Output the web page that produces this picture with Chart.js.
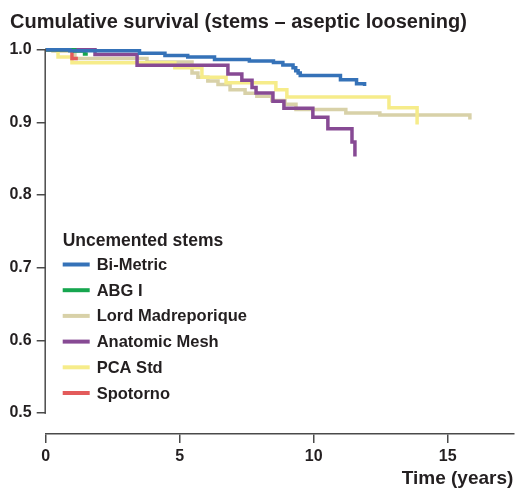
<!DOCTYPE html>
<html>
<head>
<meta charset="utf-8">
<script src="https://cdn.jsdelivr.net/npm/chart.js@4/dist/chart.umd.min.js"></script>
<style>
  html, body { margin: 0; padding: 0; background: #ffffff; }
  #wrap { width: 520px; height: 488px; }
</style>
</head>
<body>
<div id="wrap"><canvas id="c" width="520" height="488"></canvas></div>
<script>
// ---- Data ----
const chartTitle = 'Cumulative survival (stems \u2013 aseptic loosening)';
const xAxisTitle = 'Time (years)';
const legendTitle = 'Uncemented stems';
const xTicks = [0, 5, 10, 15];
const yTicks = [0.5, 0.6, 0.7, 0.8, 0.9, 1.0];

const seriesNames = ['Bi-Metric', 'ABG I', 'Lord Madreporique', 'Anatomic Mesh', 'PCA Std', 'Spotorno'];
const seriesColors = ['#3572b8', '#16a64f', '#d8d1a8', '#874a94', '#f6ec8a', '#e35b5b'];

const biMetricTimes  = [0, 0.9, 3.5, 4.45, 5.3, 6.3, 7.6, 8.5, 8.85, 9.23, 9.33, 9.42, 9.5, 11.0, 11.6, 11.9];
const biMetricValues = [1.0, 0.9985, 0.995, 0.992, 0.990, 0.9865, 0.9845, 0.9825, 0.979, 0.975, 0.971, 0.968, 0.9645, 0.9585, 0.953, 0.950];

const abgTimes  = [0, 1.08, 1.45, 1.57];
const abgValues = [1.0, 0.998, 0.994, 0.994];

const lordTimes  = [0, 0.27, 1.09, 3.78, 5.46, 5.68, 6.05, 6.43, 6.88, 7.44, 7.88, 8.44, 8.93, 9.34, 11.2, 12.47, 15.83];
const lordValues = [1.0, 0.998, 0.988, 0.983, 0.968, 0.962, 0.957, 0.952, 0.945, 0.940, 0.936, 0.930, 0.925, 0.9175, 0.913, 0.910, 0.904];

const meshTimes  = [0, 1.84, 3.41, 6.8, 7.32, 7.7, 7.85, 8.48, 8.89, 9.97, 10.53, 11.43, 11.54];
const meshValues = [1.0, 0.9935, 0.9787, 0.9665, 0.958, 0.948, 0.9405, 0.929, 0.9194, 0.907, 0.891, 0.873, 0.853];

const pcaTimes  = [0, 0.46, 0.98, 4.82, 5.83, 6.73, 8.59, 9.0, 12.81, 13.86];
const pcaValues = [1.0, 0.99, 0.982, 0.975, 0.962, 0.9545, 0.945, 0.935, 0.920, 0.897];

const spotornoTimes  = [0, 0.98, 1.2];
const spotornoValues = [1.0, 0.988, 0.988];

const seriesTimes  = [biMetricTimes, abgTimes, lordTimes, meshTimes, pcaTimes, spotornoTimes];
const seriesValues = [biMetricValues, abgValues, lordValues, meshValues, pcaValues, spotornoValues];
const drawOrder = [1, 2, 6, 3, 5, 4]; // lower = drawn on top

// ---- Style ----
const FONT = "'Liberation Sans', Arial, Helvetica, sans-serif";
const TEXT = '#231f20';
const AXIS = '#4a4a4a';

const datasets = seriesNames.map((name, i) => ({
  label: name,
  data: seriesTimes[i].map((t, k) => ({ x: t, y: seriesValues[i][k] })),
  borderColor: seriesColors[i],
  backgroundColor: seriesColors[i],
  borderWidth: 3.5,
  stepped: 'before',
  pointRadius: 0,
  pointHoverRadius: 0,
  fill: false,
  borderCapStyle: 'butt',
  borderJoinStyle: 'miter',
  order: drawOrder[i],
  clip: false
}));

const customAxesAndLegend = {
  id: 'customAxesAndLegend',
  afterDraw(chart) {
    const ctx = chart.ctx;
    const y = chart.scales.y;
    const x = chart.scales.x;
    // y-axis line from 1.0 down to 0.5
    ctx.save();
    ctx.strokeStyle = AXIS;
    ctx.lineWidth = 1.5;
    ctx.beginPath();
    const ax = chart.chartArea.left - 0.5;
    ctx.moveTo(ax, y.getPixelForValue(yTicks[yTicks.length - 1]) - 0.75);
    ctx.lineTo(ax, y.getPixelForValue(yTicks[0]) + 0.75);
    ctx.stroke();
    ctx.restore();

    // legend
    ctx.save();
    const lx = x.getPixelForValue(0) + 17;
    ctx.fillStyle = TEXT;
    ctx.textBaseline = 'alphabetic';
    ctx.textAlign = 'left';
    ctx.font = 'bold 17.5px ' + FONT;
    ctx.fillText(legendTitle, lx, 246);
    const rowY0 = 264.5, rowStep = 25.7;
    ctx.font = 'bold 16.5px ' + FONT;
    chart.data.datasets.forEach((ds, i) => {
      const ry = rowY0 + i * rowStep;
      ctx.strokeStyle = ds.borderColor;
      ctx.lineWidth = 4;
      ctx.beginPath();
      ctx.moveTo(lx, ry);
      ctx.lineTo(lx + 27, ry);
      ctx.stroke();
      ctx.fillStyle = TEXT;
      ctx.textBaseline = 'middle';
      ctx.fillText(ds.label, lx + 34, ry + 1);
    });
    ctx.restore();
  }
};

new Chart(document.getElementById('c'), {
  type: 'line',
  data: { datasets },
  plugins: [customAxesAndLegend],
  options: {
    responsive: false,
    animation: false,
    devicePixelRatio: 1,
    layout: { padding: { left: 10, right: 6.7, top: 0, bottom: 0 } },
    plugins: {
      legend: { display: false },
      tooltip: { enabled: false },
      title: {
        display: true,
        text: chartTitle,
        align: 'start',
        color: TEXT,
        font: { family: FONT, size: 20, weight: 'bold', lineHeight: 1.2 },
        padding: { top: 10, bottom: 10 }
      }
    },
    scales: {
      x: {
        type: 'linear',
        min: 0,
        max: 17.45,
        afterFit(scale) { scale.height = 54; },
        afterBuildTicks(scale) { scale.ticks = xTicks.map(v => ({ value: v })); },
        border: { display: true, color: AXIS, width: 1.5 },
        grid: { drawOnChartArea: false, drawTicks: true, tickLength: 9, color: AXIS, lineWidth: 1.5 },
        ticks: {
          color: TEXT,
          padding: 4,
          font: { family: FONT, size: 16, weight: 'bold' },
          callback: v => String(v)
        },
        title: {
          display: true,
          text: xAxisTitle,
          align: 'end',
          color: TEXT,
          font: { family: FONT, size: 19, weight: 'bold', lineHeight: 1.0 },
          padding: { top: 0, bottom: 0 }
        }
      },
      y: {
        type: 'linear',
        min: 0.4711,
        max: 1.0078,
        afterFit(scale) { scale.width = 35.7; },
        afterBuildTicks(scale) { scale.ticks = yTicks.map(v => ({ value: v })); },
        border: { display: false },
        grid: { drawOnChartArea: false, drawTicks: true, tickLength: 9, color: AXIS, lineWidth: 1.5 },
        ticks: {
          color: TEXT,
          padding: 5,
          font: { family: FONT, size: 16, weight: 'bold' },
          callback: v => Number(v).toFixed(1)
        }
      }
    }
  }
});
</script>
</body>
</html>
